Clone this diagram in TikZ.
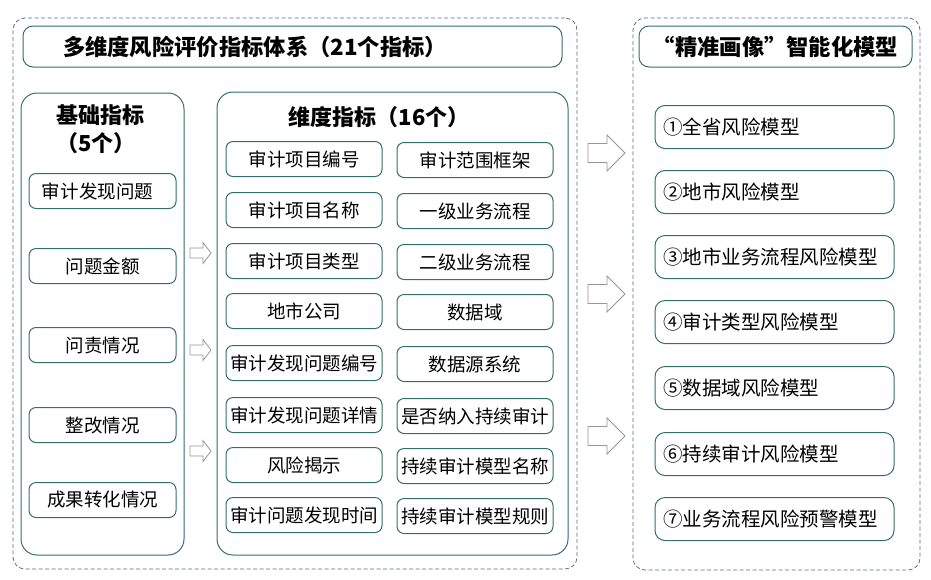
\documentclass[tikz,border=0pt]{standalone}
\usepackage{fontspec}
\newfontfamily\cjk{Noto Sans CJK SC}
\definecolor{tealb}{RGB}{50,110,110}
\definecolor{dashc}{RGB}{90,110,125}
\definecolor{arrc}{RGB}{150,150,150}
\begin{document}
\begin{tikzpicture}[x=1pt,y=-1pt,
  frame/.style={draw=dashc, dash pattern=on 4pt off 2.5pt, line width=0.8pt, rounded corners=12pt, inner sep=0pt},
  panel/.style={draw=tealb, line width=1pt, rounded corners=16pt, inner sep=0pt},
  titlebox/.style={draw=tealb, line width=1pt, rounded corners=10pt, inner sep=0pt, minimum height=41pt, font=\cjk\bfseries\fontsize{22.3}{24}\selectfont},
  item/.style={draw=tealb, line width=1pt, rounded corners=7pt, inner sep=0pt, minimum height=35pt, font=\cjk\fontsize{18.5}{20}\selectfont},
  bitem/.style={item, minimum width=147pt},
  ditem/.style={item, minimum width=156pt},
  mitem/.style={draw=tealb, line width=1pt, rounded corners=10pt, inner xsep=8pt, inner ysep=0pt, text width=223pt, align=left, minimum height=43pt, font=\cjk\fontsize{19.5}{22}\selectfont},
  head/.style={font=\cjk\bfseries\fontsize{22}{24}\selectfont, inner sep=0pt},
  hollow/.style={draw=arrc, fill=white, line width=0.8pt, line join=miter}
]
\useasboundingbox (0,0) rectangle (931,579);
% outer dashed frames
\node[frame, minimum width=564pt, minimum height=551pt] (leftframe) at (295,293.5) {};
\node[frame, minimum width=287pt, minimum height=552pt] (rightframe) at (776.5,294) {};
% title boxes
\node[titlebox, minimum width=539pt, text width=459pt, inner xsep=40pt, align=left] (title) at (292.5,46.5) {多维度风险评价指标体系（21个指标）};
\node[titlebox, minimum width=273pt] (mtitle) at (775.5,46.5) {“精准画像”智能化模型};
% panels
\node[panel, minimum width=163pt, minimum height=462pt] (basic) at (102.5,324) {};
\node[panel, minimum width=351pt, minimum height=463pt] (dim) at (392.5,323.5) {};
\node[head] (basich1) at (100,115) {基础指标};
\node[head] (basich2) at (96,143) {（5个）};
\node[head] (dimh) at (379,117) {维度指标（16个）};
% basic items
\node[bitem] (b1) at (102.5,191) {\hspace*{-10pt}审计发现问题};
\node[bitem] (b2) at (102.5,266) {问题金额};
\node[bitem] (b3) at (102.5,345) {问责情况};
\node[bitem] (b4) at (102.5,425) {整改情况};
\node[bitem] (b5) at (102.5,500) {成果转化情况};
% dimension items
\node[ditem] (d1) at (304,159) {审计项目编号};
\node[ditem] (d2) at (304,210) {审计项目名称};
\node[ditem] (d3) at (304,261) {审计项目类型};
\node[ditem] (d4) at (304,311) {地市公司};
\node[ditem] (d5) at (304,363) {审计发现问题编号};
\node[ditem] (d6) at (304,415) {审计发现问题详情};
\node[ditem] (d7) at (304,465) {风险揭示};
\node[ditem] (d8) at (304,515) {审计问题发现时间};
\node[ditem] (e1) at (475,160) {审计范围框架};
\node[ditem] (e2) at (475,211) {一级业务流程};
\node[ditem] (e3) at (475,262) {二级业务流程};
\node[ditem] (e4) at (475,312) {数据域};
\node[ditem] (e5) at (475,364) {数据源系统};
\node[ditem] (e6) at (475,416) {是否纳入持续审计};
\node[ditem] (e7) at (475,466) {持续审计模型名称};
\node[ditem] (e8) at (475,516) {持续审计模型规则};
% model items
\node[mitem] (m1) at (774.5,127) {①全省风险模型};
\node[mitem] (m2) at (774.5,192) {②地市风险模型};
\node[mitem] (m3) at (774.5,257) {③地市业务流程风险模型};
\node[mitem] (m4) at (774.5,322) {④审计类型风险模型};
\node[mitem] (m5) at (774.5,388) {⑤数据域风险模型};
\node[mitem] (m6) at (774.5,454) {⑥持续审计风险模型};
\node[mitem] (m7) at (774.5,519) {⑦业务流程风险预警模型};
% small hollow arrows (start points)
\coordinate (sa1) at (190,253);
\coordinate (sa2) at (190,350);
\coordinate (sa3) at (190,451);
\foreach \a in {sa1,sa2,sa3}
  \draw[hollow, shift={(\a)}] (0,-5) -- (13,-5) -- (13,-10.5) -- (21,0) -- (13,10.5) -- (13,5) -- (0,5) -- cycle;
% big hollow arrows
\coordinate (ba1) at (588,153);
\coordinate (ba2) at (588,294);
\coordinate (ba3) at (588,436);
\foreach \a in {ba1,ba2,ba3}
  \draw[hollow, shift={(\a)}] (0,-9.5) -- (19,-9.5) -- (19,-18) -- (37,0) -- (19,18) -- (19,9.5) -- (0,9.5) -- cycle;
\end{tikzpicture}
\end{document}
